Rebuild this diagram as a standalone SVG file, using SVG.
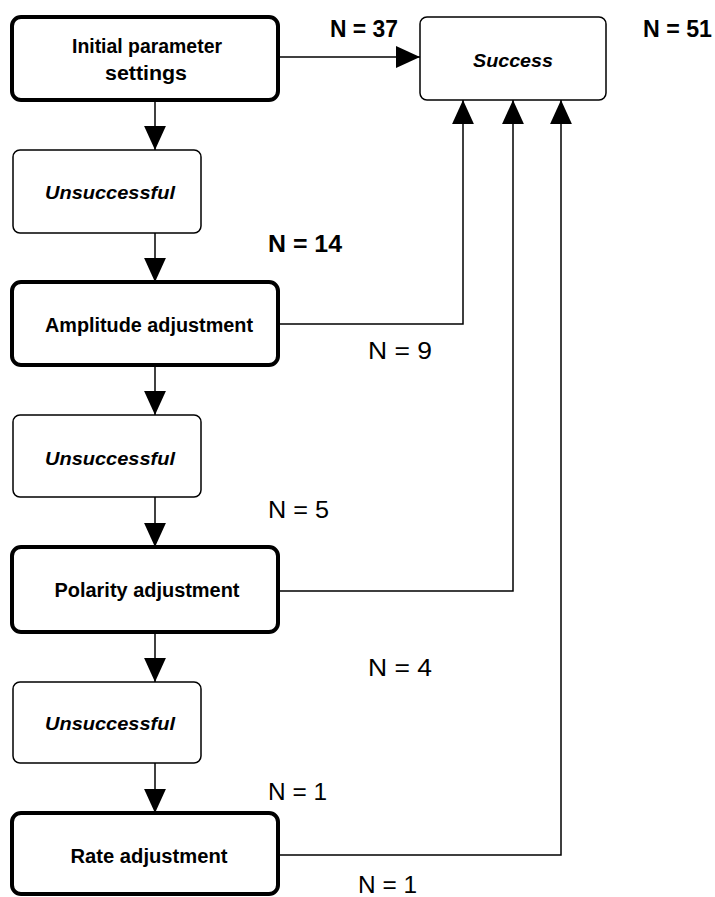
<svg xmlns="http://www.w3.org/2000/svg" width="715" height="897" viewBox="0 0 715 897">
<style>
.main{fill:#fff;stroke:#000;stroke-width:4}
.thin{fill:#fff;stroke:#000;stroke-width:1.5}
.lbl{font-family:"Liberation Sans",Arial,sans-serif;font-weight:bold;font-size:20px;text-anchor:middle;fill:#000}
.it{font-family:"Liberation Sans",Arial,sans-serif;font-weight:bold;font-style:italic;font-size:19px;text-anchor:middle;fill:#000}
.nb{font-family:"Liberation Sans",Arial,sans-serif;font-weight:bold;font-size:24px;fill:#000}
.nr{font-family:"Liberation Sans",Arial,sans-serif;font-size:24px;fill:#000}
.c{fill:none;stroke:#000;stroke-width:1.5}
</style>
<defs>
<marker id="ah" markerUnits="userSpaceOnUse" markerWidth="24" markerHeight="24" viewBox="0 0 22 22" refX="22" refY="11" orient="auto">
<path d="M0,1 L22,11 L0,21 Z" fill="#000"/>
</marker>
</defs>
<g id="connectors">
<line class="c" x1="280" y1="57" x2="420" y2="57" marker-end="url(#ah)"/>
<line class="c" x1="155" y1="102" x2="155" y2="150" marker-end="url(#ah)"/>
<line class="c" x1="155" y1="233" x2="155" y2="282" marker-end="url(#ah)"/>
<line class="c" x1="155" y1="367" x2="155" y2="415" marker-end="url(#ah)"/>
<line class="c" x1="155" y1="497" x2="155" y2="547" marker-end="url(#ah)"/>
<line class="c" x1="155" y1="634" x2="155" y2="682" marker-end="url(#ah)"/>
<line class="c" x1="155" y1="763" x2="155" y2="813" marker-end="url(#ah)"/>
<polyline class="c" points="280,324 463,324 463,100" marker-end="url(#ah)"/>
<polyline class="c" points="280,591 513,591 513,100" marker-end="url(#ah)"/>
<polyline class="c" points="280,855 561,855 561,100" marker-end="url(#ah)"/>
</g>
<g id="initial">
<rect class="main" x="12" y="17" width="266" height="83" rx="9"/>
<text class="lbl" x="147" y="53" textLength="150" lengthAdjust="spacingAndGlyphs">Initial parameter</text>
<text class="lbl" x="146" y="80" textLength="82" lengthAdjust="spacingAndGlyphs">settings</text>
</g>
<g id="success">
<rect class="thin" x="420" y="17" width="186" height="83" rx="7"/>
<text class="it" x="513" y="67" textLength="80" lengthAdjust="spacingAndGlyphs">Success</text>
</g>
<g id="unsuccessful1">
<rect class="thin" x="13" y="150" width="188" height="83" rx="7"/>
<text class="it" x="110" y="199" textLength="130" lengthAdjust="spacingAndGlyphs">Unsuccessful</text>
</g>
<g id="amplitude">
<rect class="main" x="12" y="282" width="266" height="83" rx="9"/>
<text class="lbl" x="149" y="332" textLength="208" lengthAdjust="spacingAndGlyphs">Amplitude adjustment</text>
</g>
<g id="unsuccessful2">
<rect class="thin" x="13" y="415" width="188" height="82" rx="7"/>
<text class="it" x="110" y="465" textLength="130" lengthAdjust="spacingAndGlyphs">Unsuccessful</text>
</g>
<g id="polarity">
<rect class="main" x="12" y="547" width="266" height="85" rx="9"/>
<text class="lbl" x="147" y="597" textLength="185" lengthAdjust="spacingAndGlyphs">Polarity adjustment</text>
</g>
<g id="unsuccessful3">
<rect class="thin" x="13" y="682" width="188" height="81" rx="7"/>
<text class="it" x="110" y="730" textLength="130" lengthAdjust="spacingAndGlyphs">Unsuccessful</text>
</g>
<g id="rate">
<rect class="main" x="12" y="813" width="266" height="81" rx="9"/>
<text class="lbl" x="149" y="863" textLength="157" lengthAdjust="spacingAndGlyphs">Rate adjustment</text>
</g>
<g id="labels">
<text class="nb" x="330" y="37" textLength="68" lengthAdjust="spacingAndGlyphs">N = 37</text>
<text class="nb" x="643" y="37" textLength="69" lengthAdjust="spacingAndGlyphs">N = 51</text>
<text class="nb" x="268" y="252" textLength="74" lengthAdjust="spacingAndGlyphs">N = 14</text>
<text class="nr" x="368" y="359" textLength="64" lengthAdjust="spacingAndGlyphs">N = 9</text>
<text class="nr" x="268" y="518" textLength="61" lengthAdjust="spacingAndGlyphs">N = 5</text>
<text class="nr" x="368" y="676" textLength="64" lengthAdjust="spacingAndGlyphs">N = 4</text>
<text class="nr" x="268" y="800" textLength="59" lengthAdjust="spacingAndGlyphs">N = 1</text>
<text class="nr" x="358" y="893" textLength="59" lengthAdjust="spacingAndGlyphs">N = 1</text>
</g>
</svg>
